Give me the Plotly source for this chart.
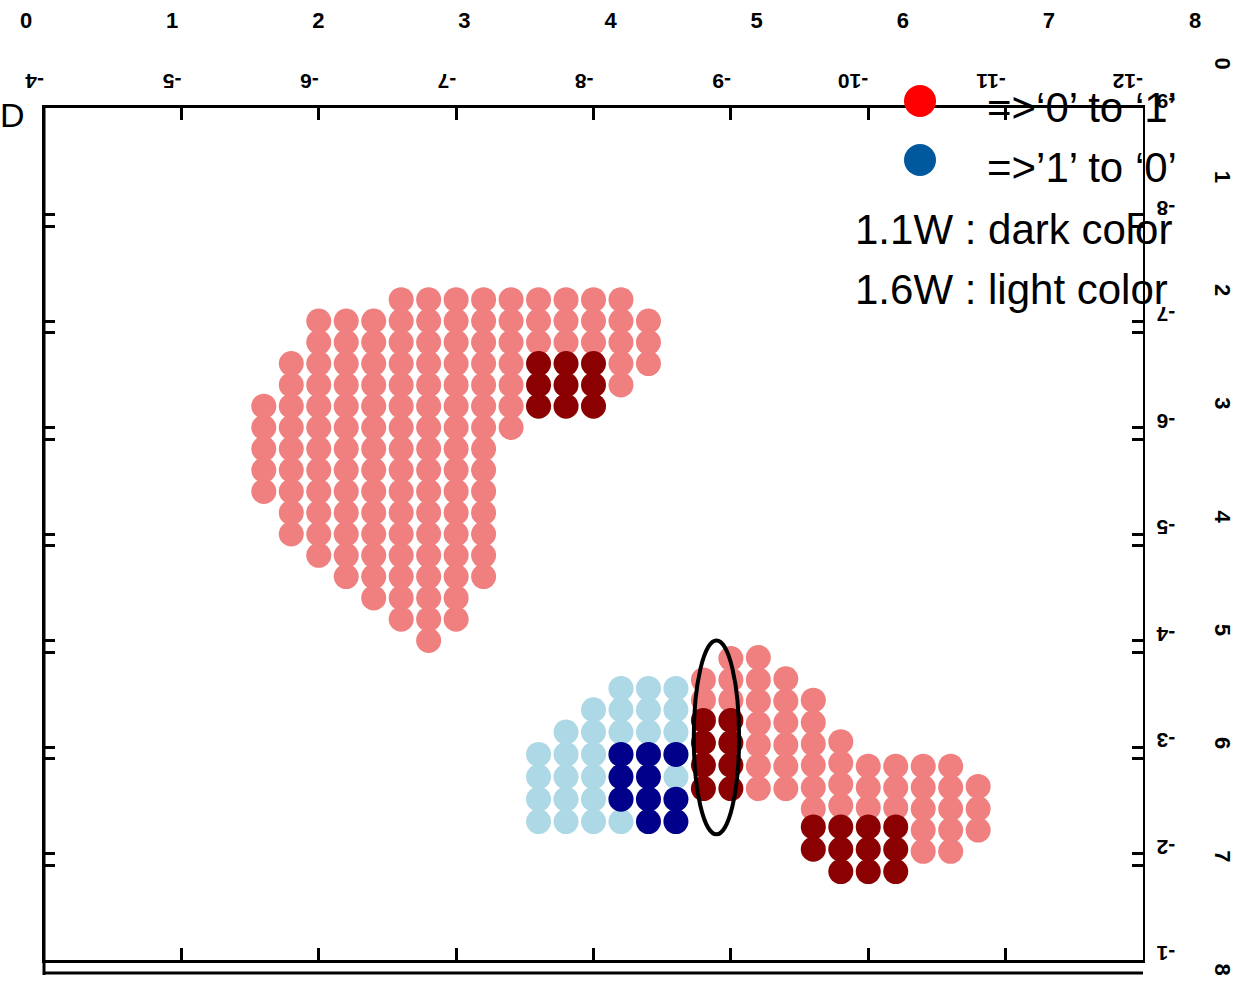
import plotly.graph_objects as go

FONT = "Liberation Sans, Arial, sans-serif"

# ---------------- data ----------------
# light red (1.6W, '0'->'1') : column x values and y values per column
lr_x = [-5.6, -5.8, -6.0, -6.2, -6.4, -6.6, -6.8, -7.0, -7.2, -7.4, -7.6, -7.8, -8.0, -8.2, -8.4,
        -8.8, -9.0, -9.2, -9.4, -9.6, -9.8, -10.0, -10.2, -10.4, -10.6, -10.8]
lr_y = [
    [-6.2, -6.0, -5.8, -5.6, -5.4],
    [-6.6, -6.4, -6.2, -6.0, -5.8, -5.6, -5.4, -5.2, -5.0],
    [-7.0, -6.8, -6.6, -6.4, -6.2, -6.0, -5.8, -5.6, -5.4, -5.2, -5.0, -4.8],
    [-7.0, -6.8, -6.6, -6.4, -6.2, -6.0, -5.8, -5.6, -5.4, -5.2, -5.0, -4.8, -4.6],
    [-7.0, -6.8, -6.6, -6.4, -6.2, -6.0, -5.8, -5.6, -5.4, -5.2, -5.0, -4.8, -4.6, -4.4],
    [-7.2, -7.0, -6.8, -6.6, -6.4, -6.2, -6.0, -5.8, -5.6, -5.4, -5.2, -5.0, -4.8, -4.6, -4.4, -4.2],
    [-7.2, -7.0, -6.8, -6.6, -6.4, -6.2, -6.0, -5.8, -5.6, -5.4, -5.2, -5.0, -4.8, -4.6, -4.4, -4.2, -4.0],
    [-7.2, -7.0, -6.8, -6.6, -6.4, -6.2, -6.0, -5.8, -5.6, -5.4, -5.2, -5.0, -4.8, -4.6, -4.4, -4.2],
    [-7.2, -7.0, -6.8, -6.6, -6.4, -6.2, -6.0, -5.8, -5.6, -5.4, -5.2, -5.0, -4.8, -4.6],
    [-7.2, -7.0, -6.8, -6.6, -6.4, -6.2, -6.0],
    [-7.2, -7.0, -6.8],
    [-7.2, -7.0, -6.8],
    [-7.2, -7.0, -6.8],
    [-7.2, -7.0, -6.8, -6.6, -6.4],
    [-7.0, -6.8, -6.6],
    [-3.63, -3.44],
    [-3.83, -3.63, -3.44],
    [-3.84, -3.63, -3.43, -3.22, -3.02, -2.82, -2.61],
    [-3.64, -3.43, -3.23, -3.02, -2.82, -2.61],
    [-3.44, -3.23, -3.03, -2.83, -2.62, -2.42],
    [-3.05, -2.85, -2.65, -2.45],
    [-2.82, -2.62, -2.43],
    [-2.82, -2.62, -2.43],
    [-2.82, -2.62, -2.42, -2.22, -2.02],
    [-2.82, -2.62, -2.42, -2.22, -2.02],
    [-2.63, -2.42, -2.22],
]

# dark red (1.1W, '0'->'1')
dr_x = [-7.6, -7.8, -8.0, -8.8, -9.0, -9.6, -9.8, -10.0, -10.2]
dr_y = [
    [-6.6, -6.4, -6.2],
    [-6.6, -6.4, -6.2],
    [-6.6, -6.4, -6.2],
    [-3.25, -3.04, -2.83, -2.61],
    [-3.25, -3.04, -2.83, -2.61],
    [-2.25, -2.04],
    [-2.25, -2.04, -1.83],
    [-2.25, -2.04, -1.83],
    [-2.25, -2.04, -1.83],
]

# light blue (1.6W, '1'->'0')
lb_x = [-7.6, -7.8, -8.0, -8.2, -8.4, -8.6]
lb_y = [
    [-2.93, -2.72, -2.51, -2.30],
    [-3.14, -2.93, -2.72, -2.51, -2.30],
    [-3.35, -3.14, -2.93, -2.72, -2.51, -2.30],
    [-3.55, -3.35, -3.14, -2.93, -2.72, -2.51, -2.30],
    [-3.55, -3.35, -3.14],
    [-3.55, -3.35, -3.14, -2.93, -2.72],
]

# dark blue (1.1W, '1'->'0')
db_x = [-8.2, -8.4, -8.6]
db_y = [
    [-2.93, -2.72, -2.51],
    [-2.93, -2.72, -2.51, -2.30],
    [-2.93, -2.51, -2.30],
]

# highlighted region (ellipse)
ellipse_x = [-8.73, -9.06]
ellipse_y = [-4.0, -2.18]

# tick labels
main_x_ticks = [-4, -5, -6, -7, -8, -9, -10, -11, -12]
main_x_text = ["-4", "-5", "-6", "-7", "-8", "-9", "-10", "-11", "-12"]
main_y_ticks = [-9, -8, -7, -6, -5, -4, -3, -2, -1]
main_y_text = ["-9", "-8", "-7", "-6", "-5", "-4", "-3", "-2", "-1"]
outer_ticks = [0, 1, 2, 3, 4, 5, 6, 7, 8]
outer_text = ["0", "1", "2", "3", "4", "5", "6", "7", "8"]

legend_labels = ["=>‘0’ to ‘1’", "=>’1’ to ‘0’", "1.1W : dark color", "1.6W : light color"]

COL_LR = "#F08080"
COL_DR = "#8B0000"
COL_LB = "#ADD8E6"
COL_DB = "#00008B"


def flatten(xs, yss):
    px, py = [], []
    for x, ys in zip(xs, yss):
        for y in ys:
            px.append(x)
            py.append(y)
    return px, py


W, H = 1234, 986
fig = go.Figure()

for xs, yss, col in [(lr_x, lr_y, COL_LR), (dr_x, dr_y, COL_DR),
                     (lb_x, lb_y, COL_LB), (db_x, db_y, COL_DB)]:
    px, py = flatten(xs, yss)
    fig.add_trace(go.Scatter(x=px, y=py, mode="markers", xaxis="x", yaxis="y",
                             marker=dict(size=25, color=col, line=dict(width=0)),
                             showlegend=False, hoverinfo="skip"))

# dummy trace to create outer 0..8 axes
fig.add_trace(go.Scatter(x=[None], y=[None], xaxis="x2", yaxis="y2", mode="markers",
                         showlegend=False, hoverinfo="skip"))

tickfont_main = dict(family=FONT, size=21, color="black", weight="bold")
tickfont_outer = dict(family=FONT, size=22, color="black", weight="bold")

fig.update_layout(
    width=W, height=H, autosize=False,
    margin=dict(l=0, r=0, t=0, b=0, pad=0, autoexpand=False),
    paper_bgcolor="white", plot_bgcolor="rgba(0,0,0,0)",
    showlegend=False,
    xaxis=dict(domain=[44 / W, 1143 / W], range=[-4, -12], side="top", anchor="y",
               tickmode="array", tickvals=main_x_ticks, ticktext=main_x_text,
               tickangle=180, ticks="inside", ticklen=12, tickwidth=3, tickcolor="black",
               showline=True, linewidth=3, linecolor="black", mirror="ticks",
               showgrid=False, zeroline=False, tickfont=tickfont_main,
               ticklabelstandoff=2, automargin=False),
    yaxis=dict(domain=[(H - 960) / H, (H - 108) / H], range=[-1, -9], side="right", anchor="x",
               tickmode="array", tickvals=main_y_ticks, ticktext=main_y_text,
               tickangle=180, ticks="inside", ticklen=11, tickwidth=3, tickcolor="black",
               showline=True, linewidth=2, linecolor="black", mirror="ticks",
               showgrid=False, zeroline=False, tickfont=tickfont_main,
               ticklabelstandoff=26, automargin=False,
               minor=dict(tickmode="array", tickvals=[v + 0.11 for v in main_y_ticks[1:-1]],
                          ticks="inside", ticklen=11, tickwidth=3, tickcolor="black")),
    xaxis2=dict(domain=[26 / W, 1195 / W], range=[0, 8], side="top", anchor="free",
                position=(H - 32) / H, automargin=False,
                tickmode="array", tickvals=outer_ticks, ticktext=outer_text,
                ticks="", showline=False, showgrid=False, zeroline=False,
                tickfont=tickfont_outer),
    yaxis2=dict(domain=[(H - 973) / H, (H - 67) / H], range=[8, 0], side="right",
                anchor="free", position=1210 / W, automargin=False,
                tickmode="array", tickvals=outer_ticks, ticktext=outer_text,
                tickangle=90, ticks="", showline=False, showgrid=False, zeroline=False,
                tickfont=tickfont_outer),
)

# ellipse around the boundary region
fig.add_shape(type="circle", xref="x", yref="y",
              x0=ellipse_x[0], x1=ellipse_x[1], y0=ellipse_y[0], y1=ellipse_y[1],
              line=dict(color="black", width=4), fillcolor="rgba(0,0,0,0)", layer="above")

# extra frame lines (bottom double line, extended left spine)
fig.add_shape(type="line", xref="paper", yref="paper",
              x0=44 / W, x1=1143 / W, y0=(H - 973) / H, y1=(H - 973) / H,
              line=dict(color="black", width=3))
fig.add_shape(type="line", xref="paper", yref="paper",
              x0=44 / W, x1=44 / W, y0=(H - 975) / H, y1=(H - 108) / H,
              line=dict(color="black", width=3))

# legend symbols
for (cx, cy, col) in [(920, 101, "#FF0000"), (920, 160, "#00599C")]:
    fig.add_shape(type="circle", xref="paper", yref="paper",
                  x0=(cx - 16) / W, x1=(cx + 16) / W, y0=(H - cy - 16) / H, y1=(H - cy + 16) / H,
                  line=dict(width=0), fillcolor=col, layer="above")

legend_pos = [(985, 107), (985, 167), (853, 230), (853, 290)]
for (lx, ly), txt in zip(legend_pos, legend_labels):
    fig.add_annotation(x=lx / W, y=(H - ly) / H, xref="paper", yref="paper",
                       text=txt, showarrow=False, xanchor="left", yanchor="middle",
                       font=dict(family=FONT, size=42, color="black"))

fig.add_annotation(x=-2 / W, y=(H - 115) / H, xref="paper", yref="paper", text="D",
                   showarrow=False, xanchor="left", yanchor="middle",
                   font=dict(family=FONT, size=34, color="black"))

fig.write_html("out.html", config={"displayModeBar": False},
               post_script="document.body.style.margin='0px';")
